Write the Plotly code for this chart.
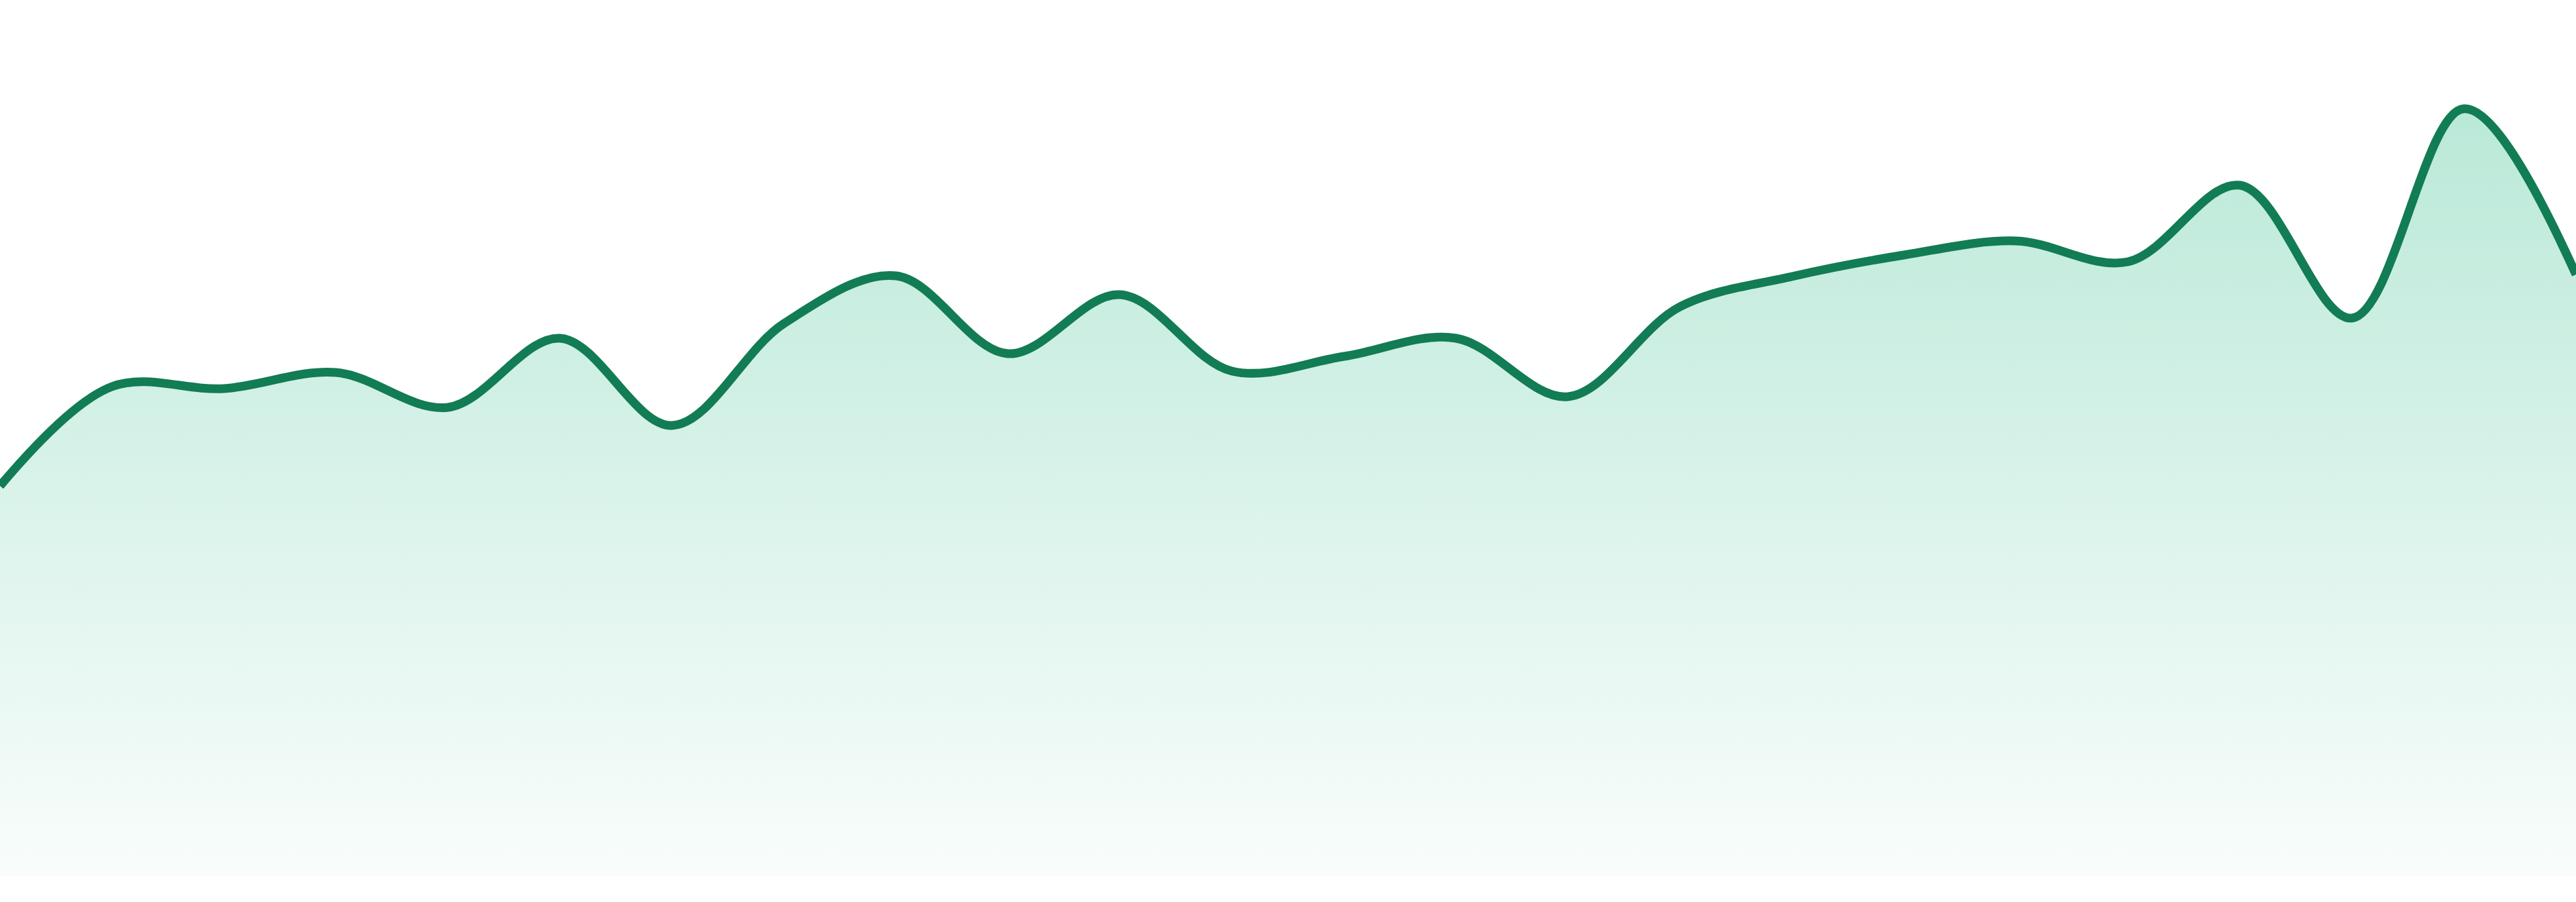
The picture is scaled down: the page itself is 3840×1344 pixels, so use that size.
import plotly.graph_objects as go

# one reading per step, left to right
steps = [0, 1, 2, 3, 4, 5, 6, 7, 8, 9, 10, 11,
         12, 13, 14, 15, 16, 17, 18, 19, 20, 21, 22, 23]
values = [58.1, 72.9, 72.6, 75.0, 69.8, 80.1, 67.1, 82.3,
          89.4, 77.8, 86.6, 75.2, 77.4, 80.1, 71.4, 84.8,
          89.3, 92.5, 94.6, 91.5, 102.9, 83.1, 114.3, 89.6]

line_color = "#127c54"

fig = go.Figure()

fig.add_trace(go.Scatter(
    x = steps,
    y = values,
    mode = "lines",
    line = dict(color = line_color, width = 13, shape = "spline", smoothing = 1),
    fill = "tozeroy",
    fillgradient = dict(
        type = "vertical",
        start = 0,
        stop = max(values),
        colorscale = [
            [0, "rgba(52, 190, 140, 0.03)"],
            [1, "rgba(52, 190, 140, 0.34)"],
        ],
    ),
    hoverinfo = "skip",
    showlegend = False,
))

fig.update_layout(
    width = 3840,
    height = 1344,
    margin = dict(l = 0, r = 0, t = 0, b = 39),
    paper_bgcolor = "white",
    plot_bgcolor = "white",
    xaxis = dict(range = [0, 23], visible = False, fixedrange = True),
    yaxis = dict(range = [0, 130.5], visible = False, fixedrange = True),
)

fig.write_html(
    "out.html",
    config = {"displayModeBar": False, "staticPlot": True},
    post_script = "document.body.style.margin = '0'; document.body.style.overflow = 'hidden';",
)
